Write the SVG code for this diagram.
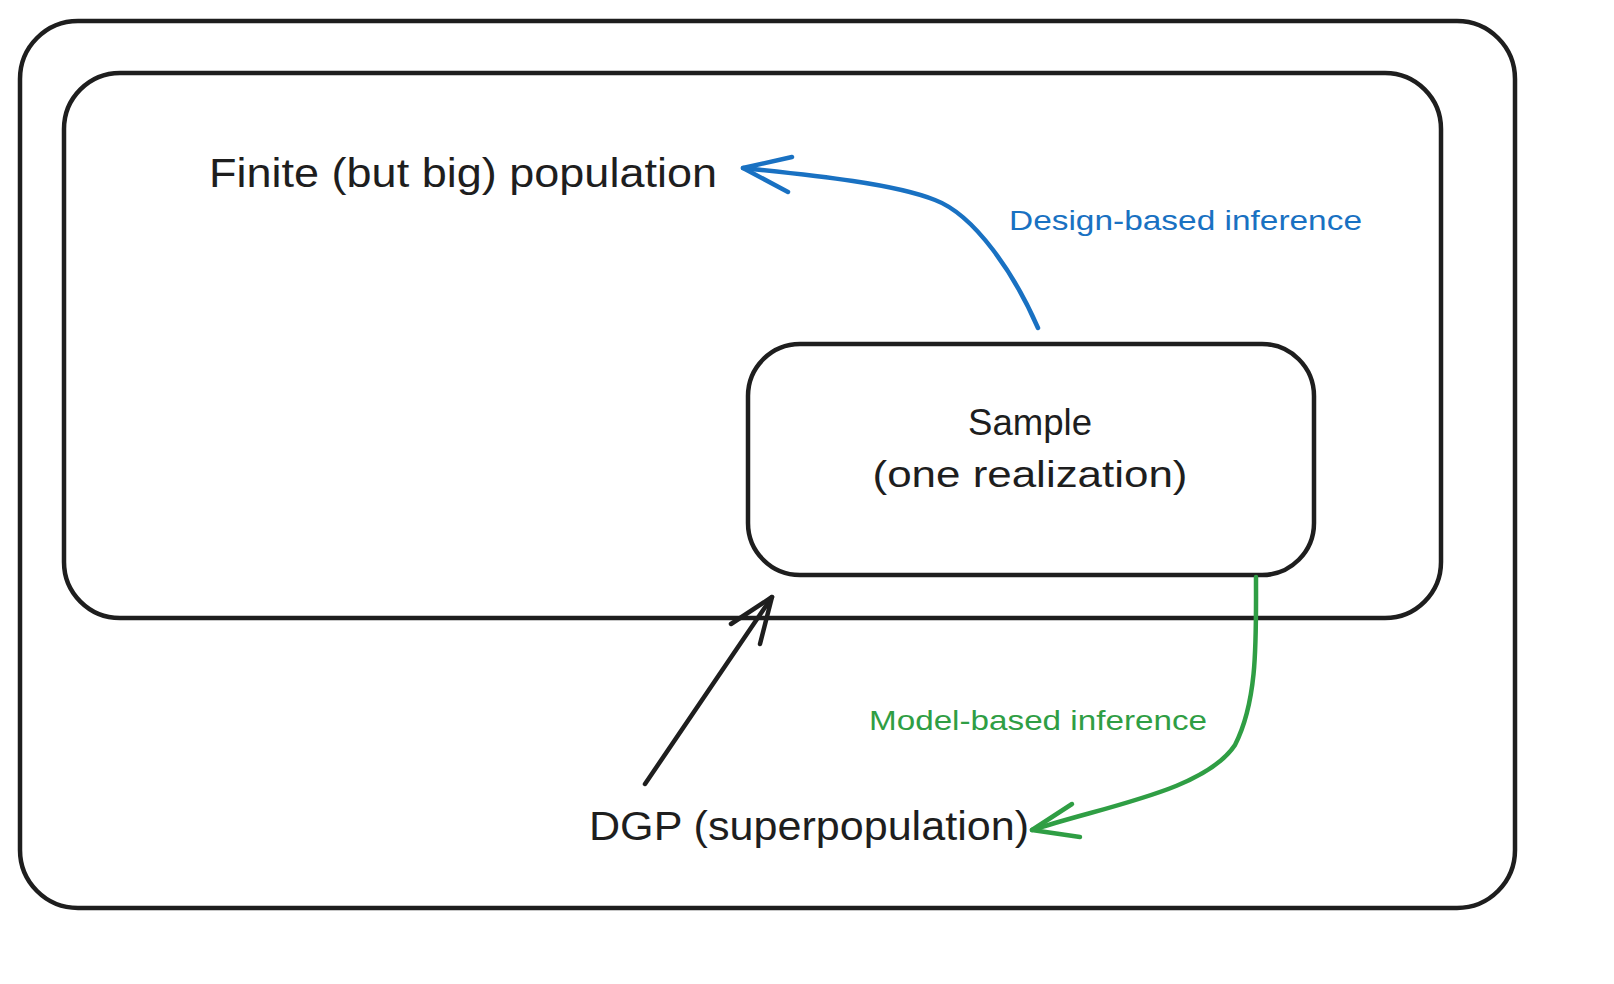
<svg xmlns="http://www.w3.org/2000/svg" width="1614" height="984" viewBox="0 0 1614 984">
  <style>
    .box { fill: none; stroke: #1e1e1e; stroke-width: 4.5; stroke-linejoin: round; }
    .lbl { font-family: "Liberation Sans", "Noto Sans", sans-serif; fill: #1e1e1e; }
    .big { font-size: 40px; }
    .mid { font-size: 36px; }
    .edge { font-size: 28px; }
    .conn { fill: none; stroke-width: 4.5; stroke-linecap: round; stroke-linejoin: round; }
    .blue { stroke: #1971c2; }
    .green { stroke: #2f9e44; }
    .black { stroke: #1e1e1e; }
  </style>
  <rect x="0" y="0" width="1614" height="984" fill="#ffffff"/>

  <g id="superpopulation">
    <rect class="box" x="20" y="21" width="1495" height="887" rx="58" ry="58"/>
    <text class="lbl big" x="589" y="840" textLength="440" lengthAdjust="spacingAndGlyphs">DGP (superpopulation)</text>
  </g>

  <g id="finite-population">
    <rect class="box" x="64" y="73" width="1377" height="545" rx="56" ry="56"/>
    <text class="lbl big" x="209" y="187" textLength="508" lengthAdjust="spacingAndGlyphs">Finite (but big) population</text>
  </g>

  <g id="sample">
    <rect class="box" x="748" y="344" width="566" height="231" rx="52" ry="52" fill="#ffffff"/>
    <text class="lbl mid" x="1030" y="435" text-anchor="middle" textLength="124" lengthAdjust="spacingAndGlyphs">Sample</text>
    <text class="lbl mid" x="1030" y="487" text-anchor="middle" textLength="315" lengthAdjust="spacingAndGlyphs">(one realization)</text>
  </g>

  <g id="connectors">
    <g id="design-based">
      <path class="conn blue" d="M1038,328 C1015,275 975,215 935,200 C895,184 820,176 743,168"/>
      <path class="conn blue" d="M792,157 L743,168 L788,192"/>
      <text class="lbl edge" x="1009" y="230" style="fill:#1971c2" textLength="353" lengthAdjust="spacingAndGlyphs">Design-based inference</text>
    </g>
    <g id="dgp-to-sample">
      <path class="conn black" d="M645,784 L772,597"/>
      <path class="conn black" d="M731,624 L772,597 L760,644"/>
    </g>
    <g id="model-based">
      <path class="conn green" d="M1256,577 C1256,640 1258,700 1235,745 C1205,790 1110,805 1032,830"/>
      <path class="conn green" d="M1072,804 L1032,830 L1080,837"/>
      <text class="lbl edge" x="869" y="730" style="fill:#2f9e44" textLength="338" lengthAdjust="spacingAndGlyphs">Model-based inference</text>
    </g>
  </g>
</svg>
